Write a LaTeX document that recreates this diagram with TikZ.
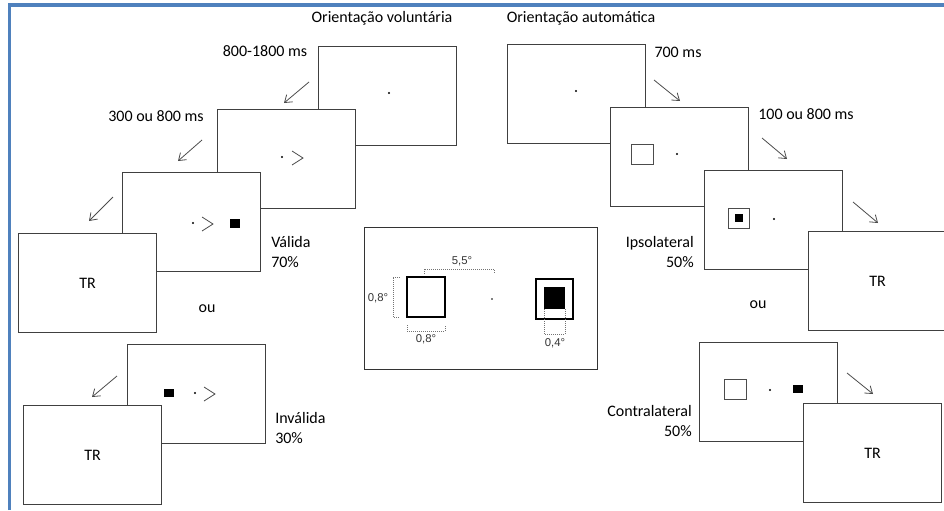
\documentclass[tikz,border=0pt]{standalone}
\usepackage{fontspec}
\setmainfont{Carlito}
\newfontfamily\degfont{Liberation Sans}
\usetikzlibrary{arrows.meta}

\definecolor{frameblue}{RGB}{79,129,189}

\begin{document}
\begin{tikzpicture}[
  x=0.75pt, y=-0.75pt,
  screen/.style={draw=black!75, fill=white, line width=0.8pt,
    minimum width=103.5pt, minimum height=74.25pt, inner sep=0pt,
    anchor=north west, font=\fontsize{12}{14}\selectfont},
  lbl/.style={font=\fontsize{12}{14.3}\selectfont, inner sep=0pt},
  deg/.style={font=\degfont\fontsize{8.5}{10}\selectfont, text=black!80, inner sep=0pt},
  arr/.style={-{Straight Barb[length=5pt, width=7pt]}, draw=black!70, line width=0.6pt},
  fix/.style={fill=black, draw=none},
  chev/.style={draw=black!70, line width=0.6pt},
  meas/.style={draw=black!55, densely dotted, line width=0.5pt},
]
\useasboundingbox (0,0) rectangle (944,510);

% blue frame
\draw[frameblue, line width=2.6pt] (9.5,510) -- (9.5,5) -- (944,5);

% === Orientacao voluntaria (left) ===
\node[lbl] (titL) at (382,18) {Orientação voluntária};
\node[lbl] (tL1) at (265,51) {800-1800 ms};
\node[lbl] (tL2) at (156,116) {300 ou 800 ms};

\node[screen] (L1) at (318,46) {};
\node[screen] (L2) at (217,109) {};
\node[screen] (L3) at (122,172) {};
\node[screen] (TR1) at (18,233) {TR};

% fixation, cue, target
\fill (389,93) circle (1.1);
\fill (282,157) circle (1.1);
\draw[chev] (292,151) -- (303,158) -- (292,165);
\fill (193,223) circle (1.1);
\draw[chev] (202,217) -- (213,224) -- (202,231);
\fill[fix] (230,219) rectangle (240,228);

\node[lbl, align=left, anchor=west] (valida) at (271,252) {Válida\\70\%};
\node[lbl] (ouL) at (207,309) {ou};

% invalid trial
\node[screen] (L4) at (127,344) {};
\node[screen] (TR2) at (23,405) {TR};
\fill[fix] (164,389) rectangle (174,397);
\fill (195,393) circle (1.1);
\draw[chev] (204,387) -- (215,394) -- (204,401);
\node[lbl, align=left, anchor=west] (invalida) at (275,428) {Inválida\\30\%};

% arrows
\coordinate (a1s) at (309,82);  \coordinate (a1e) at (284,103);
\coordinate (a2s) at (202,140); \coordinate (a2e) at (178,161);
\coordinate (a3s) at (113,197); \coordinate (a3e) at (89,221);
\coordinate (a4s) at (117,376); \coordinate (a4e) at (92,397);
\draw[arr] (a1s) -- (a1e);
\draw[arr] (a2s) -- (a2e);
\draw[arr] (a3s) -- (a3e);
\draw[arr] (a4s) -- (a4e);

% === Orientacao automatica (right) ===
\node[lbl] (titR) at (581,18) {Orientação automática};
\node[lbl] (tR1) at (678,52) {700 ms};
\node[lbl] (tR2) at (806,114) {100 ou 800 ms};

\node[screen] (R1) at (507,44) {};
\node[screen] (R2) at (610,107) {};
\node[screen] (R3) at (704,170) {};
\node[screen] (TR3) at (808,231) {TR};

\fill (576,91) circle (1.1);
\draw[chev] (631,144) rectangle (653,164);
\fill (677,154) circle (1.1);
\draw[chev] (728,208) rectangle (749,228);
\fill[fix] (735,214) rectangle (743,222);
\fill (774,219) circle (1.1);

\node[lbl, align=right, anchor=east] (ipsi) at (694,252) {Ipsolateral\\50\%};
\node[lbl] (ouR) at (758,305) {ou};

% contralateral trial
\node[screen] (R4) at (699,342) {};
\node[screen] (TR4) at (803,403) {TR};
\draw[chev] (724,379) rectangle (746,399);
\fill (770,390) circle (1.1);
\fill[fix] (793,385) rectangle (803,393);
\node[lbl, align=right, anchor=east] (contra) at (692,421) {Contralateral\\50\%};

\coordinate (b1s) at (654,80);  \coordinate (b1e) at (680,101);
\coordinate (b2s) at (762,138); \coordinate (b2e) at (787,159);
\coordinate (b3s) at (853,202); \coordinate (b3e) at (878,223);
\coordinate (b4s) at (847,373); \coordinate (b4e) at (873,394);
\draw[arr] (b1s) -- (b1e);
\draw[arr] (b2s) -- (b2e);
\draw[arr] (b3s) -- (b3e);
\draw[arr] (b4s) -- (b4e);

% === stimulus sizes (centre) ===
\draw[black!80, line width=0.7pt] (364,227) rectangle (597,369);
\draw[black, line width=1.3pt] (407,277) rectangle (445,317);
\draw[black, line width=1.3pt] (536,279) rectangle (573,319);
\fill[fix] (544,287) rectangle (565,309);
\fill (492,299) circle (0.9);

\draw[meas] (400,277) -- (393,277) -- (393,317) -- (400,317);
\draw[meas] (407,325) -- (407,331) -- (445,331) -- (445,325);
\draw[meas] (424,274) -- (424,269) -- (494,269) -- (494,274);
\draw[meas] (544,309) -- (544,334) -- (565,334) -- (565,309);

\node[deg] (d55) at (462,261) {5,5°};
\node[deg] (d08a) at (378,298) {0,8°};
\node[deg] (d08b) at (426,339) {0,8°};
\node[deg] (d04) at (555,343) {0,4°};

\end{tikzpicture}
\end{document}
